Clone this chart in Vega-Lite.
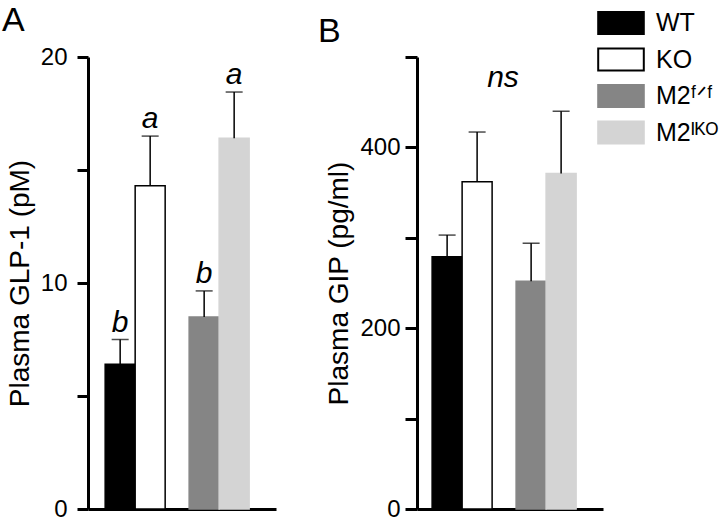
{
  "$schema": "https://vega.github.io/schema/vega-lite/v6.json",
  "padding": {"left": 2, "top": 3, "right": 0, "bottom": 0},
  "background": "white",
  "config": {
    "font": "Liberation Sans",
    "view": {"stroke": null},
    "axis": {"domainColor": "black", "domainWidth": 3, "tickColor": "black", "tickWidth": 3, "labelColor": "black", "titleColor": "black", "grid": false, "labelFont": "Liberation Sans", "titleFont": "Liberation Sans", "titleFontWeight": "normal", "labelFontSize": 24, "titleFontSize": 28},
    "title": {"fontWeight": "normal", "fontSize": 34, "color": "black", "font": "Liberation Sans"},
    "text": {"color": "black", "font": "Liberation Sans"}
  },
  "datasets": {
    "glp1": [
      {"model": "KO", "status": "control", "genotype": "WT", "mean": 6.4, "upper": 7.5, "sig": "b"},
      {"model": "KO", "status": "knockout", "genotype": "KO", "mean": 14.3, "upper": 16.5, "sig": "a"},
      {"model": "M2", "status": "control", "genotype": "M2f/f", "mean": 8.5, "upper": 9.65, "sig": "b"},
      {"model": "M2", "status": "knockout", "genotype": "M2IKO", "mean": 16.4, "upper": 18.45, "sig": "a"}
    ],
    "gip": [
      {"model": "KO", "status": "control", "genotype": "WT", "mean": 279, "upper": 303},
      {"model": "KO", "status": "knockout", "genotype": "KO", "mean": 362, "upper": 417},
      {"model": "M2", "status": "control", "genotype": "M2f/f", "mean": 252, "upper": 294},
      {"model": "M2", "status": "knockout", "genotype": "M2IKO", "mean": 371, "upper": 440}
    ]
  },
  "spacing": 42,
  "hconcat": [
    {
      "width": 188,
      "height": 452,
      "title": {"text": "A", "anchor": "start", "frame": "group", "dx": -86, "offset": 7},
      "data": {"name": "glp1"},
      "layer": [
        {
          "mark": {"type": "bar", "strokeWidth": 1.5},
          "encoding": {
            "x": {"field": "model", "type": "nominal", "scale": {"paddingInner": 0.2857, "paddingOuter": 0.262, "align": 0.39}, "axis": {"title": null, "labels": false, "ticks": false}},
            "xOffset": {"field": "status", "type": "nominal", "scale": {"paddingInner": 0, "paddingOuter": 0}},
            "y": {"field": "mean", "type": "quantitative", "title": "Plasma GLP-1 (pM)", "scale": {"domain": [0, 20]}, "axis": {"values": [0, 5, 10, 15, 20], "labelExpr": "datum.value % 10 == 0 ? datum.label : ''", "tickSize": 11, "labelPadding": 10, "titlePadding": 6}},
            "fill": {"field": "genotype", "type": "nominal", "scale": {"domain": ["WT", "KO", "M2f/f", "M2IKO"], "range": ["#000000", "#ffffff", "#858585", "#d4d4d4"]},
              "legend": {"orient": "none", "legendX": 513, "legendY": -54, "padding": 0, "title": null, "symbolType": "M-1.2,-0.58H1.2V0.58H-1.2Z", "symbolSize": 1444, "symbolStrokeWidth": 2, "labelFontSize": 25, "labelFont": "Liberation Sans, DejaVu Sans", "labelColor": "black", "labelOffset": 15, "rowPadding": 0.5,
                "labelExpr": "datum.label == 'M2f/f' ? 'M2ᶠᐟᶠ' : datum.label == 'M2IKO' ? 'M2ᴵᴷᴼ' : datum.label"}},
            "stroke": {"field": "genotype", "type": "nominal", "scale": {"domain": ["WT", "KO", "M2f/f", "M2IKO"], "range": ["#000000", "#000000", "#858585", "#d4d4d4"]}}
          }
        },
        {
          "mark": {"type": "rule", "strokeWidth": 1.5, "color": "black"},
          "encoding": {
            "x": {"field": "model", "type": "nominal"},
            "xOffset": {"field": "status", "type": "nominal"},
            "y": {"field": "mean", "type": "quantitative", "title": "Plasma GLP-1 (pM)"},
            "y2": {"field": "upper"}
          }
        },
        {
          "mark": {"type": "tick", "thickness": 1.5, "size": 17, "color": "black"},
          "encoding": {
            "x": {"field": "model", "type": "nominal"},
            "xOffset": {"field": "status", "type": "nominal"},
            "y": {"field": "upper", "type": "quantitative", "title": "Plasma GLP-1 (pM)"}
          }
        },
        {
          "mark": {"type": "text", "fontStyle": "italic", "fontSize": 30, "dy": -8, "baseline": "alphabetic"},
          "encoding": {
            "x": {"field": "model", "type": "nominal"},
            "xOffset": {"field": "status", "type": "nominal"},
            "y": {"field": "upper", "type": "quantitative", "title": "Plasma GLP-1 (pM)"},
            "text": {"field": "sig"}
          }
        }
      ]
    },
    {
      "width": 186,
      "height": 452,
      "title": {"text": "B", "anchor": "start", "frame": "group", "dx": -99, "offset": 7},
      "layer": [
        {
          "data": {"name": "gip"},
          "mark": {"type": "bar", "strokeWidth": 1.5},
          "encoding": {
            "x": {"field": "model", "type": "nominal", "scale": {"paddingInner": 0.2857, "paddingOuter": 0.25, "align": 0.36}, "axis": {"title": null, "labels": false, "ticks": false}},
            "xOffset": {"field": "status", "type": "nominal", "scale": {"paddingInner": 0, "paddingOuter": 0}},
            "y": {"field": "mean", "type": "quantitative", "title": "Plasma GIP (pg/ml)", "scale": {"domain": [0, 500]}, "axis": {"values": [0, 100, 200, 300, 400, 500], "labelExpr": "datum.value % 200 == 0 ? datum.label : ''", "tickSize": 12, "labelPadding": 5, "titlePadding": 6}},
            "fill": {"field": "genotype", "type": "nominal"},
            "stroke": {"field": "genotype", "type": "nominal"}
          }
        },
        {
          "data": {"name": "gip"},
          "mark": {"type": "rule", "strokeWidth": 1.5, "color": "black"},
          "encoding": {
            "x": {"field": "model", "type": "nominal"},
            "xOffset": {"field": "status", "type": "nominal"},
            "y": {"field": "mean", "type": "quantitative", "title": "Plasma GIP (pg/ml)"},
            "y2": {"field": "upper"}
          }
        },
        {
          "data": {"name": "gip"},
          "mark": {"type": "tick", "thickness": 1.5, "size": 17, "color": "black"},
          "encoding": {
            "x": {"field": "model", "type": "nominal"},
            "xOffset": {"field": "status", "type": "nominal"},
            "y": {"field": "upper", "type": "quantitative", "title": "Plasma GIP (pg/ml)"}
          }
        },
        {
          "data": {"values": [{"label": "ns", "level": 467}]},
          "mark": {"type": "text", "fontStyle": "italic", "fontSize": 30, "dx": -7, "baseline": "alphabetic"},
          "encoding": {
            "y": {"field": "level", "type": "quantitative", "title": "Plasma GIP (pg/ml)"},
            "text": {"field": "label"}
          }
        }
      ]
    }
  ]
}
